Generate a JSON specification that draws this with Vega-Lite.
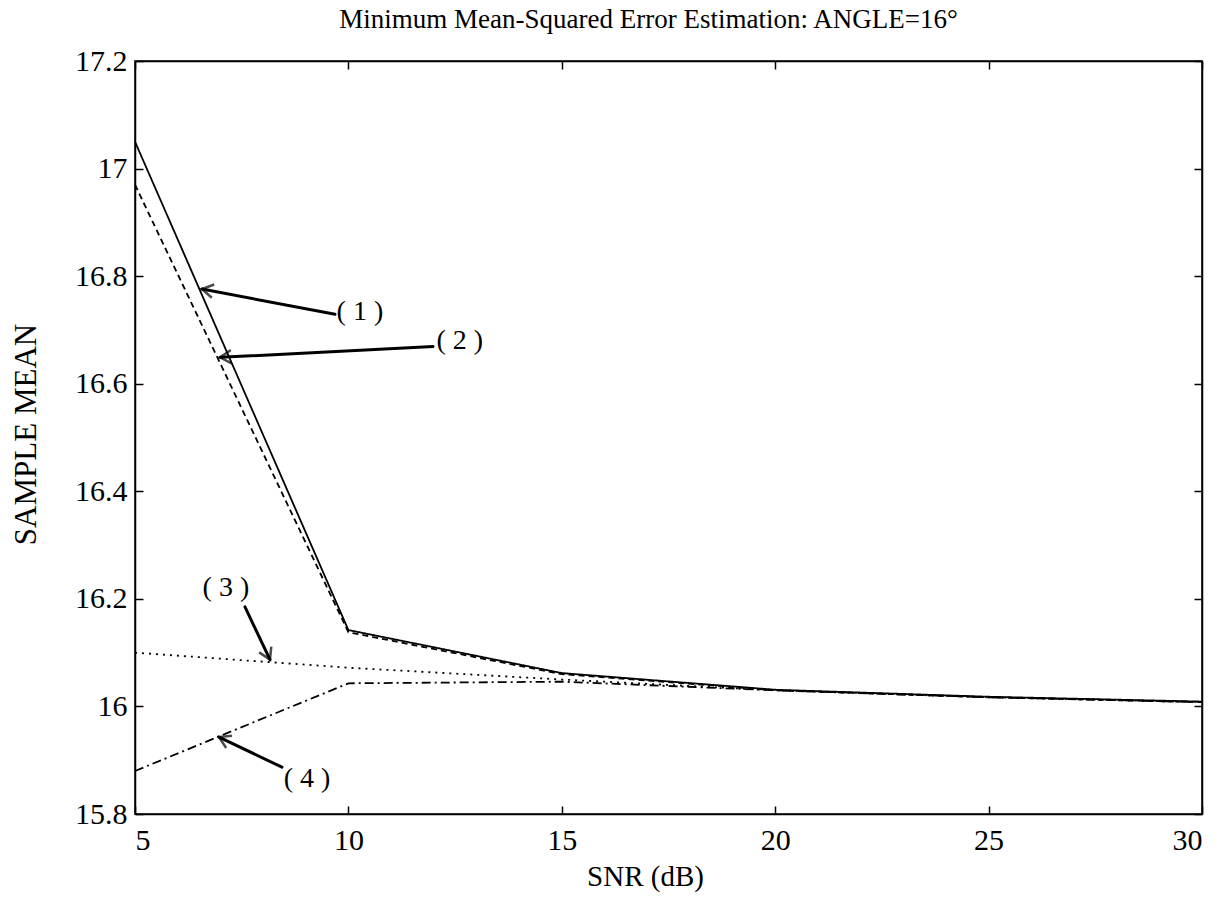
{
  "$schema": "https://vega.github.io/schema/vega-lite/v6.json",
  "width": 1067,
  "height": 753,
  "autosize": "none",
  "padding": {"left": 135, "top": 61, "right": 22, "bottom": 105},
  "background": "white",
  "config": {
    "view": {"stroke": "black", "strokeWidth": 1.5},
    "font": "Liberation Serif",
    "axis": {
      "grid": false,
      "domainColor": "black",
      "domainWidth": 1.5,
      "tickColor": "black",
      "tickWidth": 1.5,
      "tickSize": -8,
      "labelFont": "Liberation Serif",
      "labelFontSize": 30,
      "labelColor": "black",
      "titleFont": "Liberation Serif",
      "titleFontSize": 29,
      "titleFontWeight": "normal",
      "titleColor": "black"
    }
  },
  "title": {
    "text": "Minimum Mean-Squared Error Estimation: ANGLE=16°",
    "font": "Liberation Serif",
    "fontSize": 27,
    "fontWeight": "normal",
    "color": "black",
    "anchor": "middle",
    "baseline": "bottom",
    "offset": 30,
    "dy": 45,
    "dx": -20
  },
  "datasets": {
    "curves": [
      {"snr": 5, "mean": 17.05, "series": "1"},
      {"snr": 10, "mean": 16.142, "series": "1"},
      {"snr": 15, "mean": 16.062, "series": "1"},
      {"snr": 20, "mean": 16.031, "series": "1"},
      {"snr": 25, "mean": 16.018, "series": "1"},
      {"snr": 30, "mean": 16.009, "series": "1"},
      {"snr": 5, "mean": 16.97, "series": "2"},
      {"snr": 10, "mean": 16.138, "series": "2"},
      {"snr": 15, "mean": 16.06, "series": "2"},
      {"snr": 20, "mean": 16.03, "series": "2"},
      {"snr": 25, "mean": 16.017, "series": "2"},
      {"snr": 30, "mean": 16.008, "series": "2"},
      {"snr": 5, "mean": 16.1, "series": "3"},
      {"snr": 10, "mean": 16.072, "series": "3"},
      {"snr": 15, "mean": 16.05, "series": "3"},
      {"snr": 20, "mean": 16.03, "series": "3"},
      {"snr": 25, "mean": 16.017, "series": "3"},
      {"snr": 30, "mean": 16.008, "series": "3"},
      {"snr": 5, "mean": 15.88, "series": "4"},
      {"snr": 10, "mean": 16.043, "series": "4"},
      {"snr": 15, "mean": 16.046, "series": "4"},
      {"snr": 20, "mean": 16.03, "series": "4"},
      {"snr": 25, "mean": 16.017, "series": "4"},
      {"snr": 30, "mean": 16.008, "series": "4"}
    ],
    "arrows": [
      {"id": "1", "x1": 9.686, "y1": 16.729, "x2": 6.57, "y2": 16.776, "label": "( 1 )", "lx": 10.27, "ly": 16.734},
      {"id": "2", "x1": 11.982, "y1": 16.669, "x2": 6.992, "y2": 16.649, "label": "( 2 )", "lx": 12.61, "ly": 16.679},
      {"id": "3", "x1": 7.577, "y1": 16.185, "x2": 8.163, "y2": 16.087, "label": "( 3 )", "lx": 7.13, "ly": 16.221},
      {"id": "4", "x1": 8.444, "y1": 15.887, "x2": 6.968, "y2": 15.943, "label": "( 4 )", "lx": 9.03, "ly": 15.865}
    ]
  },
  "layer": [
    {
      "data": {"name": "curves"},
      "mark": {"type": "line", "color": "black", "strokeWidth": 1.8},
      "encoding": {
        "x": {
          "field": "snr", "type": "quantitative",
          "scale": {"domain": [5, 30], "nice": false, "zero": false},
          "axis": {"orient": "bottom", "values": [5, 10, 15, 20, 25, 30], "labelPadding": 19, "title": "SNR (dB)", "titleX": 510, "titleY": 71, "titleBaseline": "alphabetic"}
        },
        "y": {
          "field": "mean", "type": "quantitative",
          "scale": {"domain": [15.8, 17.2], "nice": false, "zero": false},
          "axis": {"orient": "left", "values": [15.8, 16, 16.2, 16.4, 16.6, 16.8, 17, 17.2], "format": ".1~f", "labelPadding": 16, "title": "SAMPLE MEAN", "titleFontSize": 31, "titleX": -109, "titleY": 373, "titleAngle": -90, "titleAlign": "center", "titleBaseline": "middle"}
        },
        "strokeDash": {
          "field": "series", "type": "nominal",
          "scale": {"domain": ["1", "2", "3", "4"], "range": [[1, 0], [6, 4], [2, 5], [9, 4, 2, 4]]},
          "legend": null
        },
        "detail": {"field": "series"}
      }
    },
    {
      "data": {"name": "arrows"},
      "mark": {"type": "rule", "color": "black", "strokeWidth": 3, "strokeCap": "round"},
      "encoding": {
        "x": {"field": "x1", "type": "quantitative", "axis": null},
        "y": {"field": "y1", "type": "quantitative", "axis": null},
        "x2": {"field": "x2"},
        "y2": {"field": "y2"}
      }
    },
    {
      "data": {"name": "arrows"},
      "transform": [{"filter": "datum.id == '1'"}],
      "mark": {"type": "point", "shape": "M -1 -0.6 L 0 0 L -1 0.6", "filled": false, "stroke": "black", "strokeWidth": 2.5, "size": 500, "angle": 190.6},
      "encoding": {
        "x": {"field": "x2", "type": "quantitative", "axis": null},
        "y": {"field": "y2", "type": "quantitative", "axis": null}
      }
    },
    {
      "data": {"name": "arrows"},
      "transform": [{"filter": "datum.id == '2'"}],
      "mark": {"type": "point", "shape": "M -1 -0.6 L 0 0 L -1 0.6", "filled": false, "stroke": "black", "strokeWidth": 2.5, "size": 500, "angle": 177},
      "encoding": {
        "x": {"field": "x2", "type": "quantitative", "axis": null},
        "y": {"field": "y2", "type": "quantitative", "axis": null}
      }
    },
    {
      "data": {"name": "arrows"},
      "transform": [{"filter": "datum.id == '3'"}],
      "mark": {"type": "point", "shape": "M -1 -0.6 L 0 0 L -1 0.6", "filled": false, "stroke": "black", "strokeWidth": 2.5, "size": 500, "angle": 64.7},
      "encoding": {
        "x": {"field": "x2", "type": "quantitative", "axis": null},
        "y": {"field": "y2", "type": "quantitative", "axis": null}
      }
    },
    {
      "data": {"name": "arrows"},
      "transform": [{"filter": "datum.id == '4'"}],
      "mark": {"type": "point", "shape": "M -1 -0.6 L 0 0 L -1 0.6", "filled": false, "stroke": "black", "strokeWidth": 2.5, "size": 500, "angle": 205.5},
      "encoding": {
        "x": {"field": "x2", "type": "quantitative", "axis": null},
        "y": {"field": "y2", "type": "quantitative", "axis": null}
      }
    },
    {
      "data": {"name": "arrows"},
      "mark": {"type": "text", "font": "Liberation Serif", "fontSize": 28, "color": "black", "align": "center", "baseline": "middle"},
      "encoding": {
        "x": {"field": "lx", "type": "quantitative", "axis": {"orient": "top", "values": [5, 10, 15, 20, 25, 30], "labels": false, "title": null}},
        "y": {"field": "ly", "type": "quantitative", "axis": {"orient": "right", "values": [15.8, 16, 16.2, 16.4, 16.6, 16.8, 17, 17.2], "labels": false, "title": null}},
        "text": {"field": "label"}
      }
    }
  ],
  "resolve": {"axis": {"x": "independent", "y": "independent"}}
}
